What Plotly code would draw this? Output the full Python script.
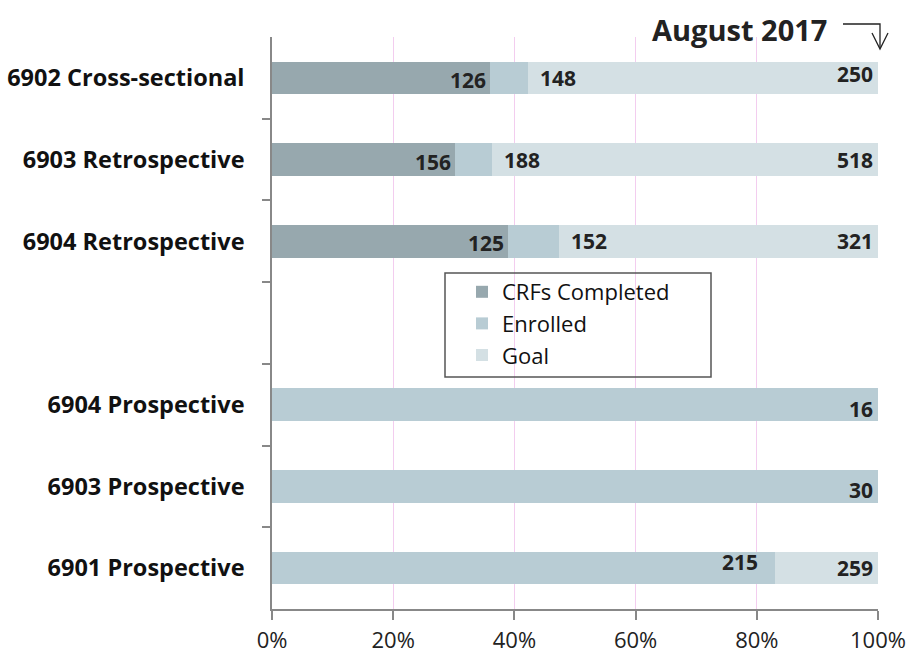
import plotly.graph_objects as go

# ---------------- data ----------------
categories = ["6902 Cross-sectional", "6903 Retrospective", "6904 Retrospective", "",
              "6904 Prospective", "6903 Prospective", "6901 Prospective"]
crfs_completed = [126, 156, 125, None, None, None, None]
enrolled = [148, 188, 152, None, 16, 30, 215]
goal = [250, 518, 321, None, 16, 30, 259]
# denominators the bars were scaled to (100% of each bar)
bar_total = [350, 518, 321, None, 16, 30, 259]

series_names = ["CRFs Completed", "Enrolled", "Goal"]
colors = ["#97a8ae", "#b8ccd4", "#d4e0e4"]
x_ticks = [0, 20, 40, 60, 80, 100]
x_tick_labels = ["0%", "20%", "40%", "60%", "80%", "100%"]
title_text = "August 2017"

# ---------------- derived ----------------
n = len(categories)
ypos = list(range(n - 1, -1, -1))  # top category first

comp_pct, enr_pct, goal_pct = [], [], []
for i in range(n):
    t = bar_total[i]
    if t is None:
        comp_pct.append(None); enr_pct.append(None); goal_pct.append(None)
        continue
    c = crfs_completed[i] or 0
    e = enrolled[i] or 0
    cp = c / t * 100
    ep = e / t * 100
    comp_pct.append(cp if c else None)
    enr_pct.append(ep - cp)
    goal_pct.append(100 - ep if 100 - ep > 0.01 else None)

FONT = "Open Sans"
label_font = dict(family=FONT, size=21, color="#222222")

fig = go.Figure()
for name, vals, col in zip(series_names, [comp_pct, enr_pct, goal_pct], colors):
    fig.add_trace(go.Bar(
        name=name, y=ypos, x=vals, orientation="h", marker_color=col,
        marker_line_width=0, width=0.4, legendgroup=name, hoverinfo="skip"))

annotations = []
for i in range(n):
    if bar_total[i] is None:
        continue
    y = ypos[i]
    t = bar_total[i]
    c = crfs_completed[i]
    e = enrolled[i]
    g = goal[i]
    if c:
        annotations.append(dict(x=c / t * 100, y=y, text=f"<b>{c}</b>", showarrow=False,
                                xanchor="right", xshift=-2, yshift=-2, font=label_font))
        annotations.append(dict(x=e / t * 100, y=y, text=f"<b>{e}</b>", showarrow=False,
                                xanchor="left", xshift=10, font=label_font))
        annotations.append(dict(x=100, y=y, text=f"<b>{g}</b>", showarrow=False,
                                xanchor="right", xshift=-3, yshift=4 if i == 0 else 0,
                                font=label_font))
    elif e != g:
        annotations.append(dict(x=e / t * 100, y=y, text=f"<b>{e}</b>", showarrow=False,
                                xanchor="right", xshift=-15, yshift=6, font=label_font))
        annotations.append(dict(x=100, y=y, text=f"<b>{g}</b>", showarrow=False,
                                xanchor="right", xshift=-3, font=label_font))
    else:
        annotations.append(dict(x=100, y=y, text=f"<b>{g}</b>", showarrow=False,
                                xanchor="right", xshift=-3, yshift=-4, font=label_font))

# Title annotation (paper coordinates)
L, R, T, B = 272, 32, 37, 45
W, H = 910, 654
pw, ph = W - L - R, H - T - B
def px(x): return (x - L) / pw
def py(y): return (H - B - y) / ph

annotations.append(dict(x=px(739), y=py(29), xref="paper", yref="paper", text=f"<b>{title_text}</b>",
                        showarrow=False, xanchor="center", yanchor="middle",
                        font=dict(family=FONT, size=29, color="#222222")))

shapes = [
    dict(type="path", xref="paper", yref="paper",
         path=f"M {px(843)},{py(24)} L {px(880)},{py(24)} L {px(880)},{py(48)}",
         line=dict(color="#222222", width=1.3)),
    dict(type="path", xref="paper", yref="paper",
         path=f"M {px(872)},{py(33)} L {px(880)},{py(49)} L {px(888)},{py(33)}",
         line=dict(color="#222222", width=1.3)),
    dict(type="rect", xref="paper", yref="paper",
         x0=px(445), x1=px(711), y0=py(377), y1=py(273),
         line=dict(color="#555555", width=1.5), fillcolor="rgba(0,0,0,0)"),
]

fig.update_layout(
    width=W, height=H, barmode="stack",
    margin=dict(l=L, r=R, t=T, b=B, autoexpand=False),
    plot_bgcolor="white", paper_bgcolor="white",
    font=dict(family=FONT, color="#222222"),
    showlegend=True,
    legend=dict(x=px(462), y=py(271), xanchor="left", yanchor="top",
                bgcolor="rgba(0,0,0,0)", borderwidth=0, tracegroupgap=5,
                traceorder="normal", itemwidth=30,
                font=dict(family=FONT, size=22, color="#111111")),
    xaxis=dict(range=[0, 100], tickvals=x_ticks, ticktext=x_tick_labels,
               showgrid=True, gridcolor="#f3cdef", gridwidth=1,
               showline=True, linecolor="#888888", linewidth=1.5,
               ticks="outside", ticklen=9, tickcolor="#888888", tickwidth=1.5,
               tickangle=0, automargin=False, ticklabelstandoff=2,
               tickfont=dict(family=FONT, size=22, color="#222222"),
               zeroline=False, fixedrange=True),
    yaxis=dict(range=[-0.5, n - 0.5], tickvals=ypos, ticktext=[f"<b>{c}</b>" for c in categories],
               showgrid=False, zeroline=False, automargin=False,
               showline=True, linecolor="#888888", linewidth=1.5,
               ticks="", ticklabelstandoff=21,
               tickfont=dict(family=FONT, size=23.5, color="#111111"),
               minor=dict(tickvals=[k + 0.5 for k in range(n - 1)], ticks="outside",
                          ticklen=8, tickcolor="#888888", tickwidth=1.5, showgrid=False),
               fixedrange=True),
    annotations=annotations, shapes=shapes,
)

fig.write_html("out.html")
